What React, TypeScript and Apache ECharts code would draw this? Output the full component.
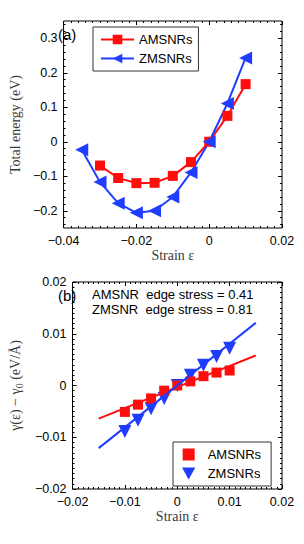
import React, { useEffect, useRef } from 'react';
import * as echarts from 'echarts';

// Panel (a): total energy vs strain
const energyStrainA = [-0.03, -0.025, -0.02, -0.015, -0.01, -0.005, 0, 0.005, 0.01];
const energyA = [-0.069, -0.105, -0.12, -0.119, -0.099, -0.059, 0, 0.075, 0.167];
const energyStrainZ = [-0.035, -0.03, -0.025, -0.02, -0.015, -0.01, -0.005, 0, 0.005, 0.01];
const energyZ = [-0.023, -0.117, -0.178, -0.206, -0.2, -0.16, -0.089, 0, 0.111, 0.243];

// Panel (b): edge energy change vs strain
const stressStrain = [-0.01, -0.0075, -0.005, -0.0025, 0, 0.0025, 0.005, 0.0075, 0.01];
const stressA = [-0.0051, -0.0037, -0.0025, -0.001, 0, 0.0008, 0.0018, 0.0025, 0.0029];
const stressZ = [-0.0089, -0.0067, -0.0045, -0.0025, 0, 0.002, 0.0039, 0.0056, 0.0072];
const fitStrain = [-0.015, 0.015];
const fitA = [-0.0064, 0.0058];
const fitZ = [-0.0121, 0.0121];

// Tick labels
const energyTicks = [-0.2, -0.1, 0, 0.1, 0.2, 0.3];
const energyMinorTicks = Array.from({ length: 30 }, (_, i) => Math.round((-0.24 + i * 0.02) * 1000) / 1000);

const RED = '#ff0d0d';
const BLUE = '#1f3dff';
const SANS = '"Liberation Sans", Arial, sans-serif';
const SERIF = '"Liberation Serif", "Times New Roman", serif';

const zip = (xs: number[], ys: number[]) => xs.map((x, i) => [x, ys[i]]);
const fmt = (v: number) => {
  const r = parseFloat(Number(v).toFixed(4));
  if (r === 0) return '0';
  return (r < 0 ? '\u2212' : '') + String(Math.abs(r));
};

const LEFT_TRI = 'path://M0,5 L10,0 L10,10 Z';
const DOWN_TRI = 'path://M0,0 L10,0 L5,9 Z';
const SQUARE = 'path://M0,0 L10,0 L10,10 L0,10 Z';

export default function App() {
  const ref = useRef<HTMLDivElement>(null);
  useEffect(() => {
    if (!ref.current) return;
    const chart = echarts.init(ref.current, null, { renderer: 'svg' });
    const labelStyle = { fontFamily: SANS, fontSize: 12.5, color: '#000' };
    const nameStyle = { fontFamily: SERIF, fontSize: 14, color: '#3a3a3a' };
    const noLine = { show: false, onZero: false };
    const xAxisBase = (grid: number, pos: 'bottom' | 'top', min: number, max: number, interval: number, showLabel: boolean, name?: string) => ({
      type: 'value',
      gridIndex: grid,
      position: pos,
      min,
      max,
      interval,
      name: name,
      nameLocation: 'middle',
      nameGap: 20,
      nameTextStyle: nameStyle,
      axisLine: noLine,
      axisTick: { show: true, inside: true, length: 4, lineStyle: { color: '#000' } },
      minorTick: { show: true, splitNumber: 10, length: 2, lineStyle: { color: '#000' } },
      axisLabel: { show: showLabel, ...labelStyle, margin: 6, formatter: fmt },
      splitLine: { show: false },
    });

    const option: any = {
      animation: false,
      grid: [
        { left: 54, top: 21, width: 228, height: 207, show: true, borderColor: '#000', borderWidth: 1, backgroundColor: 'transparent' },
        { left: 54, top: 282, width: 228, height: 207, show: true, borderColor: '#000', borderWidth: 1, backgroundColor: 'transparent' },
      ],
      xAxis: [
        xAxisBase(0, 'bottom', -0.04, 0.02, 0.02, true, 'Strain \u03b5'),
        xAxisBase(0, 'top', -0.04, 0.02, 0.02, false),
        xAxisBase(1, 'bottom', -0.02, 0.02, 0.01, true, 'Strain \u03b5'),
        xAxisBase(1, 'top', -0.02, 0.02, 0.01, false),
      ],
      yAxis: [
        {
          type: 'value', gridIndex: 0, position: 'left', min: -0.25, max: 0.35, interval: 0.05,
          name: 'Total energy (eV)', nameLocation: 'middle', nameGap: 36, nameTextStyle: nameStyle,
          axisLine: noLine,
          axisTick: { show: true, inside: true, length: 4, customValues: energyTicks, lineStyle: { color: '#000' } },
          axisLabel: { ...labelStyle, margin: 6, customValues: energyTicks, formatter: fmt },
          splitLine: { show: false },
        },
        {
          type: 'value', gridIndex: 0, position: 'right', min: -0.25, max: 0.35, interval: 0.05,
          axisLine: noLine,
          axisTick: { show: true, inside: true, length: 4, customValues: energyTicks, lineStyle: { color: '#000' } },
          axisLabel: { show: false },
          splitLine: { show: false },
        },
        {
          type: 'value', gridIndex: 0, position: 'left', min: -0.25, max: 0.35, interval: 0.05,
          axisLine: noLine,
          axisTick: { show: true, inside: true, length: 2, customValues: energyMinorTicks, lineStyle: { color: '#000' } },
          axisLabel: { show: false },
          splitLine: { show: false },
        },
        {
          type: 'value', gridIndex: 0, position: 'right', min: -0.25, max: 0.35, interval: 0.05,
          axisLine: noLine,
          axisTick: { show: true, inside: true, length: 2, customValues: energyMinorTicks, lineStyle: { color: '#000' } },
          axisLabel: { show: false },
          splitLine: { show: false },
        },
        {
          type: 'value', gridIndex: 1, position: 'left', min: -0.02, max: 0.02, interval: 0.01,
          name: '{t|\u03b3(\u03b5) \u2212 \u03b3}{s|0}{t| (eV/\u00c5)}', nameLocation: 'middle', nameGap: 36,
          nameTextStyle: {
            ...nameStyle,
            rich: {
              t: { fontFamily: SERIF, fontSize: 14, color: '#3a3a3a', lineHeight: 18, verticalAlign: 'middle' },
              s: { fontFamily: SERIF, fontSize: 10, color: '#3a3a3a', lineHeight: 18, verticalAlign: 'bottom' },
            },
          },
          axisLine: noLine,
          axisTick: { show: true, inside: true, length: 4, lineStyle: { color: '#000' } },
          minorTick: { show: true, splitNumber: 10, length: 2, lineStyle: { color: '#000' } },
          axisLabel: { ...labelStyle, margin: 6, formatter: fmt },
          splitLine: { show: false },
        },
        {
          type: 'value', gridIndex: 1, position: 'right', min: -0.02, max: 0.02, interval: 0.01,
          axisLine: noLine,
          axisTick: { show: true, inside: true, length: 4, lineStyle: { color: '#000' } },
          minorTick: { show: true, splitNumber: 10, length: 2, lineStyle: { color: '#000' } },
          axisLabel: { show: false },
          splitLine: { show: false },
        },
      ],
      legend: [
        {
          left: 93, top: 27, orient: 'vertical', itemWidth: 33, itemHeight: 12, itemGap: 6,
          padding: [6, 6, 6, 7], backgroundColor: '#fff', borderColor: '#333', borderWidth: 1, borderRadius: 0,
          textStyle: { fontFamily: SANS, fontSize: 13, color: '#000' },
          data: ['AMSNRs', 'ZMSNRs'],
        },
        {
          left: 173, top: 442, orient: 'vertical', itemWidth: 28, itemHeight: 12, itemGap: 6,
          padding: [6, 10, 6, 9], backgroundColor: '#fff', borderColor: '#333', borderWidth: 1, borderRadius: 0,
          textStyle: { fontFamily: SANS, fontSize: 13, color: '#000' },
          data: ['AMSNRs (b)', 'ZMSNRs (b)'],
          formatter: (n: string) => n.replace(' (b)', ''),
        },
      ],
      series: [
        {
          name: 'AMSNRs', type: 'line', xAxisIndex: 0, yAxisIndex: 0,
          data: zip(energyStrainA, energyA),
          symbol: 'rect', symbolSize: 10,
          itemStyle: { color: RED }, lineStyle: { color: RED, width: 2 },
        },
        {
          name: 'ZMSNRs', type: 'line', xAxisIndex: 0, yAxisIndex: 0,
          data: zip(energyStrainZ, energyZ),
          symbol: LEFT_TRI, symbolSize: 13,
          itemStyle: { color: BLUE }, lineStyle: { color: BLUE, width: 2 },
        },
        {
          name: 'fitA', type: 'line', xAxisIndex: 2, yAxisIndex: 4,
          data: zip(fitStrain, fitA), symbol: 'none',
          lineStyle: { color: RED, width: 2 },
        },
        {
          name: 'fitZ', type: 'line', xAxisIndex: 2, yAxisIndex: 4,
          data: zip(fitStrain, fitZ), symbol: 'none',
          lineStyle: { color: BLUE, width: 2 },
        },
        {
          name: 'ZMSNRs (b)', type: 'scatter', xAxisIndex: 2, yAxisIndex: 4,
          data: zip(stressStrain, stressZ),
          symbol: DOWN_TRI, symbolSize: 13,
          itemStyle: { color: BLUE, opacity: 1 },
        },
        {
          name: 'AMSNRs (b)', type: 'scatter', xAxisIndex: 2, yAxisIndex: 4,
          data: zip(stressStrain, stressA),
          symbol: SQUARE, symbolSize: 10,
          itemStyle: { color: RED, opacity: 1 },
        },
      ],
      graphic: [
        { type: 'text', left: 58, top: 27, style: { text: '(a)', fontFamily: SANS, fontSize: 15, fill: '#000' } },
        { type: 'text', left: 58, top: 288, style: { text: '(b)', fontFamily: SANS, fontSize: 15, fill: '#000' } },
        { type: 'text', left: 92, top: 288, style: { text: 'AMSNR  edge stress = 0.41', fontFamily: SANS, fontSize: 13, fill: '#000' } },
        { type: 'text', left: 92, top: 303, style: { text: 'ZMSNR  edge stress = 0.81', fontFamily: SANS, fontSize: 13, fill: '#000' } },
      ],
    };
    chart.setOption(option);
    return () => chart.dispose();
  }, []);
  return <div ref={ref} style={{ position: 'fixed', left: 0, top: 0, width: 304, height: 544, background: '#fff' }} />;
}
